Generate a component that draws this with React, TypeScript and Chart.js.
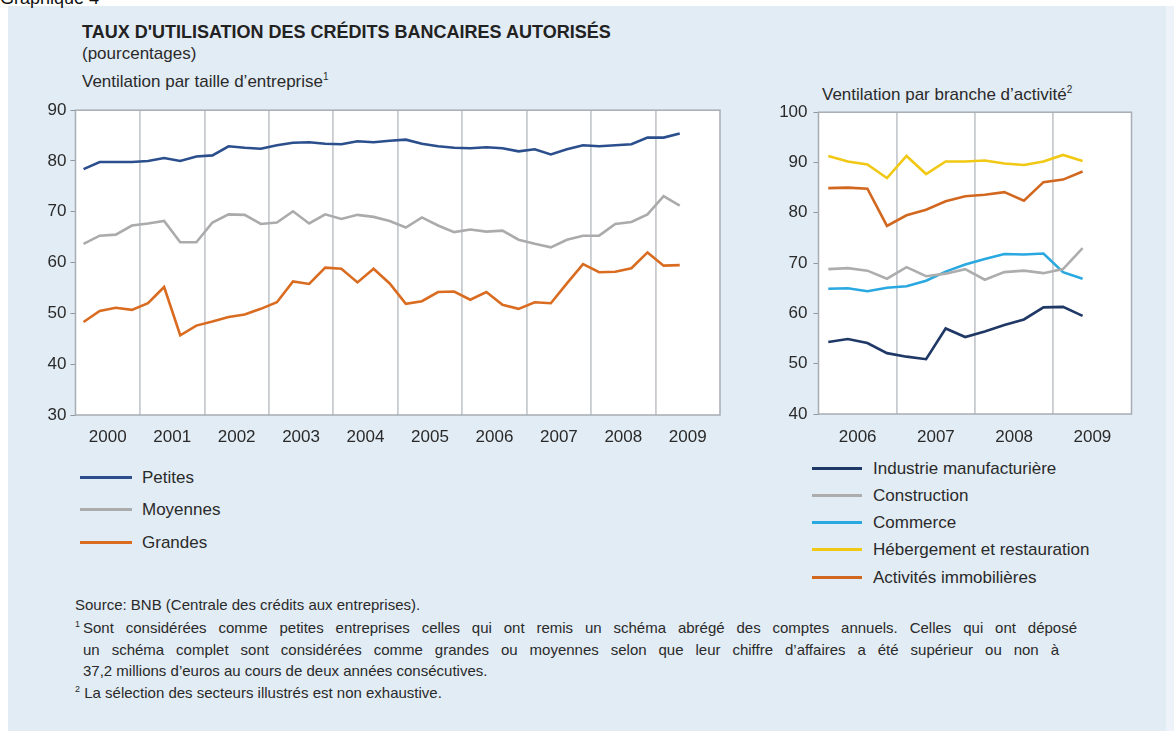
import React, { useEffect, useRef } from "react";
import { Chart, registerables } from "chart.js";

Chart.register(...registerables);

const FONT = "'Liberation Sans', Arial, Helvetica, sans-serif";
const TEXT = "#2a2a2a";
const GRID = "#c8ccd0";
const FRAME = "#a7adb3";

// ---------- Left panel: by firm size (quarterly, 2000 T1 – 2009 T2) ----------
const sizeQuarters = [
  "2000T1", "2000T2", "2000T3", "2000T4",
  "2001T1", "2001T2", "2001T3", "2001T4",
  "2002T1", "2002T2", "2002T3", "2002T4",
  "2003T1", "2003T2", "2003T3", "2003T4",
  "2004T1", "2004T2", "2004T3", "2004T4",
  "2005T1", "2005T2", "2005T3", "2005T4",
  "2006T1", "2006T2", "2006T3", "2006T4",
  "2007T1", "2007T2", "2007T3", "2007T4",
  "2008T1", "2008T2", "2008T3", "2008T4",
  "2009T1", "2009T2",
];
const sizeYearLabels = ["2000", "2001", "2002", "2003", "2004", "2005", "2006", "2007", "2008", "2009"];
const sizeYTicks = [30, 40, 50, 60, 70, 80, 90];

const petites = [
  78.4, 79.8, 79.8, 79.8, 80.0, 80.6, 80.0, 80.9, 81.1, 82.9,
  82.6, 82.4, 83.1, 83.6, 83.7, 83.4, 83.3, 83.9, 83.7, 84.0,
  84.2, 83.4, 82.9, 82.6, 82.5, 82.7, 82.5, 81.9, 82.3, 81.3,
  82.3, 83.1, 82.9, 83.1, 83.3, 84.6, 84.6, 85.4,
];
const moyennes = [
  63.7, 65.3, 65.5, 67.3, 67.7, 68.2, 64.0, 64.0, 67.9, 69.5,
  69.4, 67.6, 67.9, 70.1, 67.7, 69.5, 68.6, 69.4, 69.0, 68.2,
  66.9, 68.9, 67.3, 66.0, 66.5, 66.1, 66.3, 64.5, 63.7, 63.0,
  64.5, 65.3, 65.3, 67.6, 68.0, 69.5, 73.1, 71.2,
];
const grandes = [
  48.3, 50.5, 51.1, 50.7, 52.0, 55.2, 45.7, 47.6, 48.4, 49.3,
  49.8, 50.9, 52.2, 56.3, 55.8, 59.0, 58.8, 56.1, 58.8, 55.9,
  51.9, 52.4, 54.2, 54.3, 52.7, 54.2, 51.7, 50.9, 52.2, 52.0,
  55.9, 59.7, 58.1, 58.2, 58.9, 62.0, 59.4, 59.5,
];

// ---------- Right panel: by branch of activity (quarterly, 2006 T1 – 2009 T2) ----------
const sectorQuarters = [
  "2006T1", "2006T2", "2006T3", "2006T4",
  "2007T1", "2007T2", "2007T3", "2007T4",
  "2008T1", "2008T2", "2008T3", "2008T4",
  "2009T1", "2009T2",
];
const sectorYearLabels = ["2006", "2007", "2008", "2009"];
const sectorYTicks = [40, 50, 60, 70, 80, 90, 100];

const industrie = [54.3, 54.9, 54.1, 52.1, 51.4, 50.9, 57.0, 55.3, 56.4, 57.7, 58.8, 61.2, 61.3, 59.5];
const construction = [68.8, 69.0, 68.5, 66.9, 69.2, 67.4, 67.9, 68.8, 66.7, 68.2, 68.5, 68.0, 68.8, 73.0];
const commerce = [64.9, 65.0, 64.4, 65.1, 65.4, 66.5, 68.3, 69.7, 70.8, 71.8, 71.7, 71.9, 68.2, 66.9];
const hebergement = [91.3, 90.2, 89.6, 86.9, 91.3, 87.7, 90.2, 90.2, 90.4, 89.8, 89.5, 90.2, 91.5, 90.3];
const immobilier = [84.9, 85.0, 84.8, 77.4, 79.5, 80.6, 82.3, 83.3, 83.6, 84.1, 82.4, 86.1, 86.6, 88.2];

type Series = { label: string; data: number[]; color: string };

const sizeSeries: Series[] = [
  { label: "Petites", data: petites, color: "#2b4e8d" },
  { label: "Moyennes", data: moyennes, color: "#ababab" },
  { label: "Grandes", data: grandes, color: "#d96c20" },
];

const sectorSeries: Series[] = [
  { label: "Industrie manufacturière", data: industrie, color: "#1f3866" },
  { label: "Construction", data: construction, color: "#adadad" },
  { label: "Commerce", data: commerce, color: "#2aa8e0" },
  { label: "Hébergement et restauration", data: hebergement, color: "#f1c814" },
  { label: "Activités immobilières", data: immobilier, color: "#d2671f" },
];

const quarterToX = (q: string) => {
  const year = parseInt(q.slice(0, 4), 10);
  const n = parseInt(q.slice(5), 10);
  return year + (n - 0.5) / 4;
};

const framePlugin = {
  id: "frame",
  beforeDraw(chart: any) {
    const { ctx, chartArea: a } = chart;
    ctx.save();
    ctx.fillStyle = "#ffffff";
    ctx.fillRect(a.left, a.top, a.right - a.left, a.bottom - a.top);
    ctx.restore();
  },
  afterDraw(chart: any) {
    const { ctx, chartArea: a } = chart;
    ctx.save();
    ctx.strokeStyle = FRAME;
    ctx.lineWidth = 1.5;
    ctx.strokeRect(a.left, a.top, a.right - a.left, a.bottom - a.top);
    ctx.restore();
  },
};

type PanelProps = {
  quarters: string[];
  yearLabels: string[];
  yTicks: number[];
  series: Series[];
  left: number;
  top: number;
  width: number;
  height: number;
  yWidth: number;
  xHeight: number;
  padTop: number;
  padRight: number;
  yPad: number;
  xPad: number;
};

function LinePanel(p: PanelProps) {
  const ref = useRef<HTMLCanvasElement | null>(null);
  useEffect(() => {
    if (!ref.current) return;
    const xMin = parseInt(p.yearLabels[0], 10);
    const xMax = parseInt(p.yearLabels[p.yearLabels.length - 1], 10) + 1;
    const yMin = p.yTicks[0];
    const yMax = p.yTicks[p.yTicks.length - 1];
    const chart = new Chart(ref.current, {
      type: "line",
      data: {
        datasets: p.series.map((s) => ({
          label: s.label,
          data: p.quarters.map((q, i) => ({ x: quarterToX(q), y: s.data[i] })),
          borderColor: s.color,
          backgroundColor: s.color,
          borderWidth: 2.6,
          pointRadius: 0,
          tension: 0,
          fill: false,
        })),
      },
      options: {
        animation: false,
        responsive: false,
        devicePixelRatio: 1,
        layout: { padding: { top: p.padTop, right: p.padRight, left: 0, bottom: 0 } },
        plugins: { legend: { display: false }, tooltip: { enabled: false } },
        scales: {
          x: {
            type: "linear",
            min: xMin,
            max: xMax,
            afterBuildTicks: (scale: any) => {
              const t: { value: number }[] = [];
              for (let k = 0; k <= (xMax - xMin) * 2; k++) t.push({ value: xMin + k * 0.5 });
              scale.ticks = t;
            },
            afterFit: (scale: any) => {
              scale.height = p.xHeight;
            },
            ticks: {
              autoSkip: false,
              maxRotation: 0,
              minRotation: 0,
              padding: p.xPad,
              color: TEXT,
              font: { family: FONT, size: 17 },
              callback: (value: any) => {
                const v = Number(value);
                if (Math.abs(v - Math.floor(v) - 0.5) < 1e-6) {
                  return p.yearLabels[Math.floor(v) - xMin] ?? "";
                }
                return "";
              },
            },
            grid: {
              drawTicks: false,
              lineWidth: 1.8,
              color: (ctx: any) => {
                const v = ctx.tick ? ctx.tick.value : null;
                if (v == null) return "rgba(0,0,0,0)";
                return Number.isInteger(v) && v > xMin && v < xMax ? GRID : "rgba(0,0,0,0)";
              },
            },
            border: { display: false },
          },
          y: {
            type: "linear",
            min: yMin,
            max: yMax,
            afterBuildTicks: (scale: any) => {
              scale.ticks = p.yTicks.map((v) => ({ value: v }));
            },
            afterFit: (scale: any) => {
              scale.width = p.yWidth;
            },
            ticks: {
              padding: p.yPad,
              color: TEXT,
              font: { family: FONT, size: 17 },
            },
            grid: {
              drawOnChartArea: false,
              drawTicks: true,
              tickLength: 5,
              color: "#8e959b",
              lineWidth: 1,
            },
            border: { display: false },
          },
        },
      },
      plugins: [framePlugin],
    } as any);
    return () => chart.destroy();
  }, []);
  return (
    <canvas
      ref={ref}
      width={p.width}
      height={p.height}
      style={{ position: "absolute", left: p.left, top: p.top, width: p.width, height: p.height }}
    />
  );
}

function Txt(props: {
  x: number;
  y: number;
  size?: number;
  bold?: boolean;
  children: React.ReactNode;
  color?: string;
  width?: number;
}) {
  const justify = props.width != null;
  return (
    <div
      style={{
        position: "absolute",
        left: props.x,
        top: props.y,
        width: props.width,
        fontFamily: FONT,
        fontSize: props.size ?? 17,
        fontWeight: props.bold ? 700 : 400,
        lineHeight: 1,
        whiteSpace: justify ? "normal" : "nowrap",
        textAlign: justify ? "justify" : "left",
        textAlignLast: justify ? "justify" : "auto",
        color: props.color ?? TEXT,
      }}
    >
      {props.children}
    </div>
  );
}

const Sup = (props: { children: React.ReactNode; size?: number; lift?: number }) => (
  <span style={{ fontSize: props.size ?? 10, position: "relative", top: -(props.lift ?? 7) }}>{props.children}</span>
);

function Legend(props: { series: Series[]; x: number; textX: number; lineW: number; ys: number[] }) {
  return (
    <>
      {props.series.map((s, i) => (
        <React.Fragment key={s.label}>
          <div
            style={{
              position: "absolute",
              left: props.x,
              top: props.ys[i] - 1.5,
              width: props.lineW,
              height: 3,
              background: s.color,
            }}
          />
          <Txt x={props.textX} y={props.ys[i] - 8.4}>
            {s.label}
          </Txt>
        </React.Fragment>
      ))}
    </>
  );
}

const NOTE = 15;

export default function App() {
  return (
    <div
      style={{
        position: "fixed",
        left: 0,
        top: 0,
        width: 1174,
        height: 731,
        overflow: "hidden",
        background: "#ffffff",
      }}
    >
      <div style={{ position: "absolute", left: 1166, top: 6, width: 8, height: 725, background: "#edf3f8" }} />
      <div style={{ position: "absolute", left: 8, top: 6, width: 1158, height: 725, background: "#e2ecf5" }} />
      <Txt x={0} y={-11} size={18} color="#111">
        Graphique 4
      </Txt>

      <Txt x={82} y={23} size={18} bold color="#222">
        TAUX D'UTILISATION DES CRÉDITS BANCAIRES AUTORISÉS
      </Txt>
      <Txt x={82} y={45}>(pourcentages)</Txt>
      <Txt x={82} y={73}>
        Ventilation par taille d’entreprise<Sup>1</Sup>
      </Txt>
      <Txt x={822} y={86}>
        Ventilation par branche d’activité<Sup>2</Sup>
      </Txt>

      <LinePanel
        quarters={sizeQuarters}
        yearLabels={sizeYearLabels}
        yTicks={sizeYTicks}
        series={sizeSeries}
        left={20}
        top={96}
        width={712}
        height={354}
        yWidth={55.5}
        xHeight={35}
        padTop={12.5}
        padRight={11.5}
        yPad={4}
        xPad={12}
      />
      <LinePanel
        quarters={sectorQuarters}
        yearLabels={sectorYearLabels}
        yTicks={sectorYTicks}
        series={sectorSeries}
        left={760}
        top={96}
        width={392}
        height={354}
        yWidth={58.5}
        xHeight={36}
        padTop={14.5}
        padRight={20.5}
        yPad={6}
        xPad={13}
      />

      <Legend series={sizeSeries} x={80} textX={142} lineW={52} ys={[477, 509, 542]} />
      <Legend series={sectorSeries} x={812} textX={873} lineW={50} ys={[468, 495, 522, 549, 577]} />

      <Txt x={75} y={597} size={NOTE}>
        Source: BNB (Centrale des crédits aux entreprises).
      </Txt>
      <Txt x={75} y={620} size={NOTE}>
        <Sup size={9} lift={6}>1</Sup>
      </Txt>
      <Txt x={83} y={620} size={NOTE} width={994}>
        Sont considérées comme petites entreprises celles qui ont remis un schéma abrégé des comptes annuels. Celles qui ont déposé
      </Txt>
      <Txt x={83} y={642} size={NOTE} width={976}>
        un schéma complet sont considérées comme grandes ou moyennes selon que leur chiffre d’affaires a été supérieur ou non à
      </Txt>
      <Txt x={83} y={663} size={NOTE}>
        37,2 millions d’euros au cours de deux années consécutives.
      </Txt>
      <Txt x={75} y={685} size={NOTE}>
        <Sup size={9} lift={6}>2</Sup> La sélection des secteurs illustrés est non exhaustive.
      </Txt>
    </div>
  );
}
